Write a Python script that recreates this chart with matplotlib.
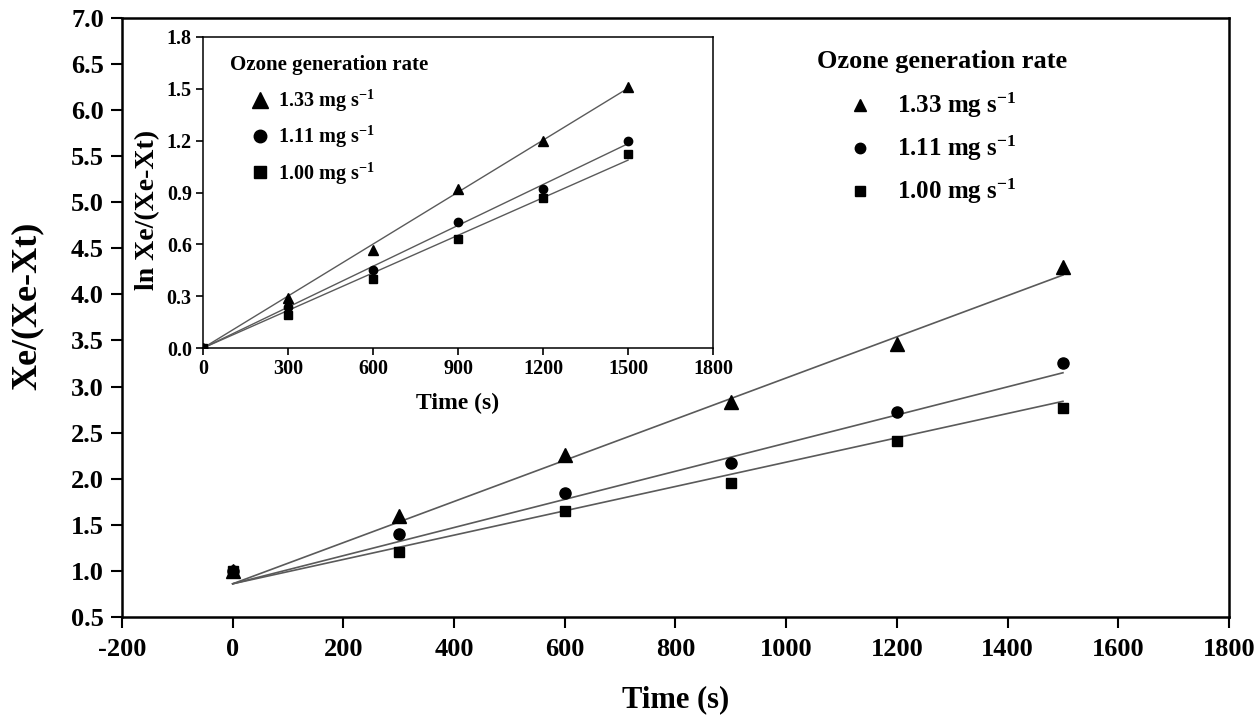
import numpy as np
import matplotlib
matplotlib.use("Agg")
import matplotlib.pyplot as plt

plt.rcParams['font.family'] = ['Liberation Serif', 'DejaVu Serif']
plt.rcParams['font.weight'] = 'bold'
plt.rcParams['axes.unicode_minus'] = False
plt.rcParams['mathtext.fontset'] = 'custom'
plt.rcParams['mathtext.rm'] = 'Liberation Serif:bold'
plt.rcParams['mathtext.bf'] = 'Liberation Serif:bold'
plt.rcParams['mathtext.default'] = 'bf'

# data
time_s = [0, 300, 600, 900, 1200, 1500]
labels = ['1.33 mg s$^{-1}$', '1.11 mg s$^{-1}$', '1.00 mg s$^{-1}$']
markers = ['^', 'o', 's']

ratio_133 = [1.00, 1.60, 2.26, 2.83, 3.46, 4.30]
ratio_111 = [1.00, 1.40, 1.85, 2.17, 2.72, 3.26]
ratio_100 = [1.00, 1.21, 1.65, 1.95, 2.41, 2.77]

# fitted lines of the main plot (value at t=0 and at t=1500)
fit_t = [0, 1500]
fit_133 = [0.86, 4.21]
fit_111 = [0.86, 3.15]
fit_100 = [0.86, 2.84]

ln_133 = [0.0, 0.29, 0.57, 0.92, 1.20, 1.51]
ln_111 = [0.0, 0.24, 0.45, 0.73, 0.92, 1.20]
ln_100 = [0.0, 0.19, 0.40, 0.63, 0.87, 1.12]

main_series = [ratio_133, ratio_111, ratio_100]
fit_series = [fit_133, fit_111, fit_100]
inset_series = [ln_133, ln_111, ln_100]

main_ms = {'^': 10.5, 'o': 8, 's': 7}
leg_ms = {'^': 9, 'o': 7.5, 's': 6.5}
inset_ms = {'^': 6.5, 'o': 6, 's': 5.5}
ileg_ms = {'^': 11, 'o': 9, 's': 8}
mk_z = {'^': 5, 'o': 4, 's': 3}
line_col = '#5a5a5a'

fig = plt.figure(figsize=(12.6, 7.17), dpi=100)

# main plot
ax = fig.add_axes([0.0968, 0.1395, 0.8786, 0.8355])
x = np.array(time_s, dtype=float)
for ys, fy, mk, lab in zip(main_series, fit_series, markers, labels):
    ax.plot(x, ys, linestyle='none', marker=mk, color='black',
            markersize=main_ms[mk], label=lab, zorder=mk_z[mk])
    ax.plot(fit_t, fy, color=line_col, linewidth=1.2, zorder=2)

ax.set_xlim(-200, 1800)
ax.set_ylim(0.5, 7.0)
ax.set_xticks(np.arange(-200, 1801, 200))
ax.set_yticks(np.arange(0.5, 7.01, 0.5))
ax.yaxis.set_major_formatter(plt.FormatStrFormatter('%.1f'))
ax.tick_params(direction='out', length=8, width=1.5, labelsize=19)
ax.tick_params(axis='x', pad=7)
ax.tick_params(axis='y', pad=5)
for sp in ax.spines.values():
    sp.set_linewidth(1.8)
ax.set_xlabel('Time (s)', fontsize=22, fontweight='bold')
ax.xaxis.set_label_coords(0.5, -0.1135)
ax.set_ylabel('Xe/(Xe-Xt)', fontsize=26, fontweight='bold')
ax.yaxis.set_label_coords(-0.0705, 0.52)

ax.text(0.7407, 0.9265, 'Ozone generation rate', transform=ax.transAxes,
        ha='center', va='center', fontsize=19, fontweight='bold')
leg = ax.legend(loc='upper left', bbox_to_anchor=(0.6554, 0.878),
                frameon=False, fontsize=18, borderpad=0, borderaxespad=0,
                handlelength=1.0, handletextpad=0.98, labelspacing=0.55)
for h, mk in zip(leg.legend_handles, markers):
    h.set_markersize(leg_ms[mk])

# inset plot
ins = fig.add_axes([0.1611, 0.5146, 0.4048, 0.4338])
for ys, mk, lab in zip(inset_series, markers, labels):
    ys = np.array(ys)
    ins.plot(x, ys, linestyle='none', marker=mk, color='black',
             markersize=inset_ms[mk], label=lab, zorder=mk_z[mk])
    k = np.sum(x * ys) / np.sum(x * x)
    ins.plot([0, 1500], [0, k * 1500], color=line_col, linewidth=1.0, zorder=2)

ins.set_xlim(0, 1800)
ins.set_ylim(0, 1.8)
ins.set_xticks(np.arange(0, 1801, 300))
ins.set_yticks(np.arange(0, 1.81, 0.3))
ins.yaxis.set_major_formatter(plt.FormatStrFormatter('%.1f'))
ins.tick_params(direction='out', length=5, width=1.2, labelsize=14.5, pad=3)
for sp in ins.spines.values():
    sp.set_linewidth(1.1)
ins.set_xlabel('Time (s)', fontsize=17, fontweight='bold')
ins.xaxis.set_label_coords(0.5, -0.145)
ins.set_ylabel('ln Xe/(Xe-Xt)', fontsize=20, fontweight='bold')
ins.yaxis.set_label_coords(-0.084, 0.444)

ins.text(0.053, 0.91, 'Ozone generation rate', transform=ins.transAxes,
         ha='left', va='center', fontsize=15, fontweight='bold')
ileg = ins.legend(loc='upper left', bbox_to_anchor=(0.092, 0.836),
                  frameon=False, fontsize=14.5, borderpad=0, borderaxespad=0,
                  handlelength=1.0, handletextpad=0.4, labelspacing=0.5)
for h, mk in zip(ileg.legend_handles, markers):
    h.set_markersize(ileg_ms[mk])

fig.savefig('out.png', dpi=100)
